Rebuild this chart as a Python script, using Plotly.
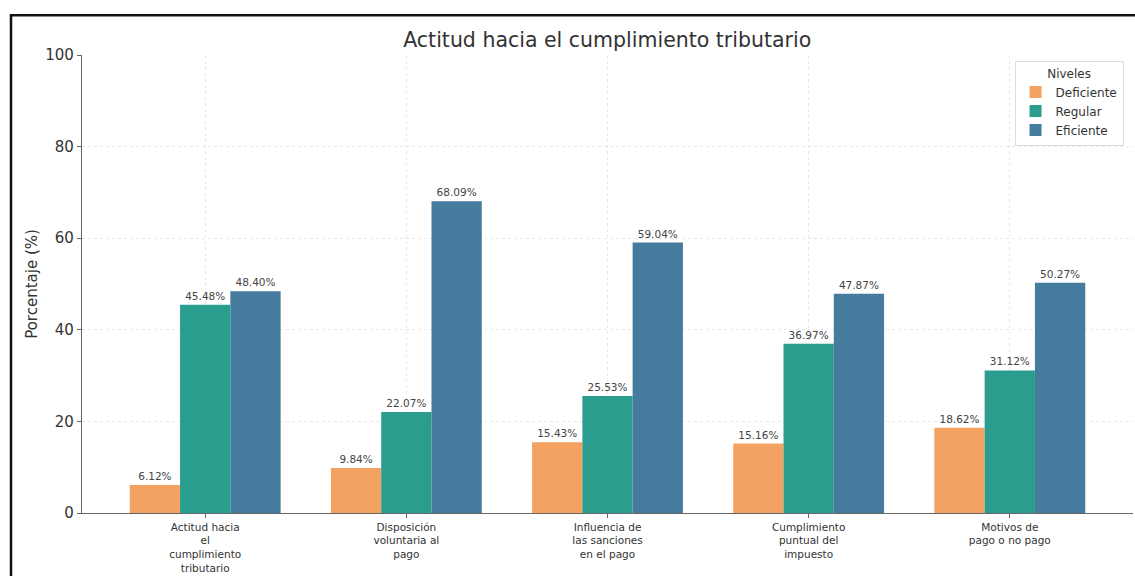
import plotly.graph_objects as go

categories = [
    "Actitud hacia<br>el<br>cumplimiento<br>tributario",
    "Disposición<br>voluntaria al<br>pago",
    "Influencia de<br>las sanciones<br>en el pago",
    "Cumplimiento<br>puntual del<br>impuesto",
    "Motivos de<br>pago o no pago",
]
deficiente = [6.12, 9.84, 15.43, 15.16, 18.62]
regular = [45.48, 22.07, 25.53, 36.97, 31.12]
eficiente = [48.40, 68.09, 59.04, 47.87, 50.27]

series = [
    ("Deficiente", deficiente, "#F4A261"),
    ("Regular", regular, "#2A9D8F"),
    ("Eficiente", eficiente, "#457B9D"),
]

FONT = "DejaVu Sans"

fig = go.Figure()
for name, vals, color in series:
    fig.add_trace(go.Bar(
        x=categories, y=vals, name=name,
        marker=dict(color=color, line=dict(width=0)),
        texttemplate="%{y:.2f}%", textposition="outside",
        textfont=dict(size=10.5, color="#444444", family=FONT),
        cliponaxis=False,
    ))

fig.update_layout(
    width=1135, height=576,
    barmode="group", bargap=0.25, bargroupgap=0,
    paper_bgcolor="white", plot_bgcolor="white",
    margin=dict(l=82, r=2, t=55, b=59),
    font=dict(family=FONT, color="#333333"),
    title=dict(text="Actitud hacia el cumplimiento tributario",
               x=0.535, xanchor="center", y=1 - 40 / 576, yanchor="middle",
               font=dict(size=20.5, color="#333333", family=FONT)),
    legend=dict(
        title=dict(text="Niveles", side="top center", font=dict(size=12, color="#333333")),
        x=0.991, xanchor="right", y=0.987, yanchor="top",
        bgcolor="white", bordercolor="#dddddd", borderwidth=1,
        font=dict(size=12, color="#333333"),
    ),
    xaxis=dict(
        type="category", range=[-0.6125, 4.6125],
        showline=True, linecolor="#666666", linewidth=1.2,
        ticks="outside", ticklen=4, tickcolor="#666666",
        showgrid=True, gridcolor="#e8e8e8", griddash="3px,3px", gridwidth=1,
        tickfont=dict(size=10.5, color="#333333"),
        tickangle=0,
    ),
    yaxis=dict(
        range=[0, 100], dtick=20,
        showline=True, linecolor="#666666", linewidth=1.2,
        ticks="outside", ticklen=4, tickcolor="#666666",
        showgrid=True, gridcolor="#e8e8e8", griddash="3px,3px", gridwidth=1,
        zeroline=False,
        tickfont=dict(size=15, color="#333333"),
        title=dict(text="Porcentaje (%)", font=dict(size=15, color="#333333"), standoff=4),
    ),
    shapes=[dict(
        type="rect", xref="paper", yref="paper",
        x0=(11 - 82) / 1051, x1=1.05, y0=-0.3, y1=(517 - 15) / 462,
        line=dict(color="#111111", width=2.5), fillcolor="rgba(0,0,0,0)", layer="above",
    )],
)

fig.write_html("out.html", config={"displayModeBar": False},
               post_script="document.body.style.margin='0';")
